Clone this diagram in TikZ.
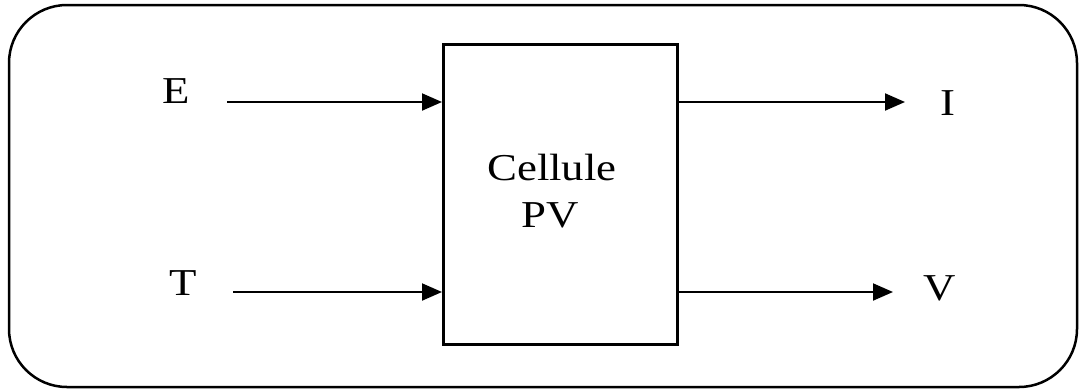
\documentclass[tikz,border=0pt]{standalone}
\usepackage{fontspec}
\setmainfont[FakeStretch=1.18]{Liberation Serif}
\usetikzlibrary{arrows.meta}
\begin{document}
\begin{tikzpicture}[x=1pt,y=-1pt,
  lbl/.style={font=\fontsize{38}{46}\selectfont, inner sep=0pt},
  arr/.style={line width=2pt, -{Triangle[length=20pt,width=17pt]}}]
\useasboundingbox (0,0) rectangle (1080,389);
\draw[line width=2.5pt, rounded corners=58pt] (9,5) rectangle (1077,387);
\node[draw, line width=3pt, minimum width=234pt, minimum height=300pt, inner sep=0pt] (box) at (560.5,194) {};
\node[lbl] (c1) at (552,167) {Cellule};
\node[lbl] (c2) at (550,215) {PV};
\node[lbl] (E) at (176,91) {E};
\node[lbl] (T) at (183,283) {T};
\node[lbl] (I) at (948,103) {I};
\node[lbl] (V) at (940,288) {V};
\coordinate (es) at (227,102);
\coordinate (ts) at (233,292);
\coordinate (ie) at (905,102);
\coordinate (ve) at (893,292);
\draw[arr] (es) -- (es -| box.west);
\draw[arr] (ts) -- (ts -| box.west);
\draw[arr] (ie -| box.east) -- (ie);
\draw[arr] (ve -| box.east) -- (ve);
\end{tikzpicture}
\end{document}
